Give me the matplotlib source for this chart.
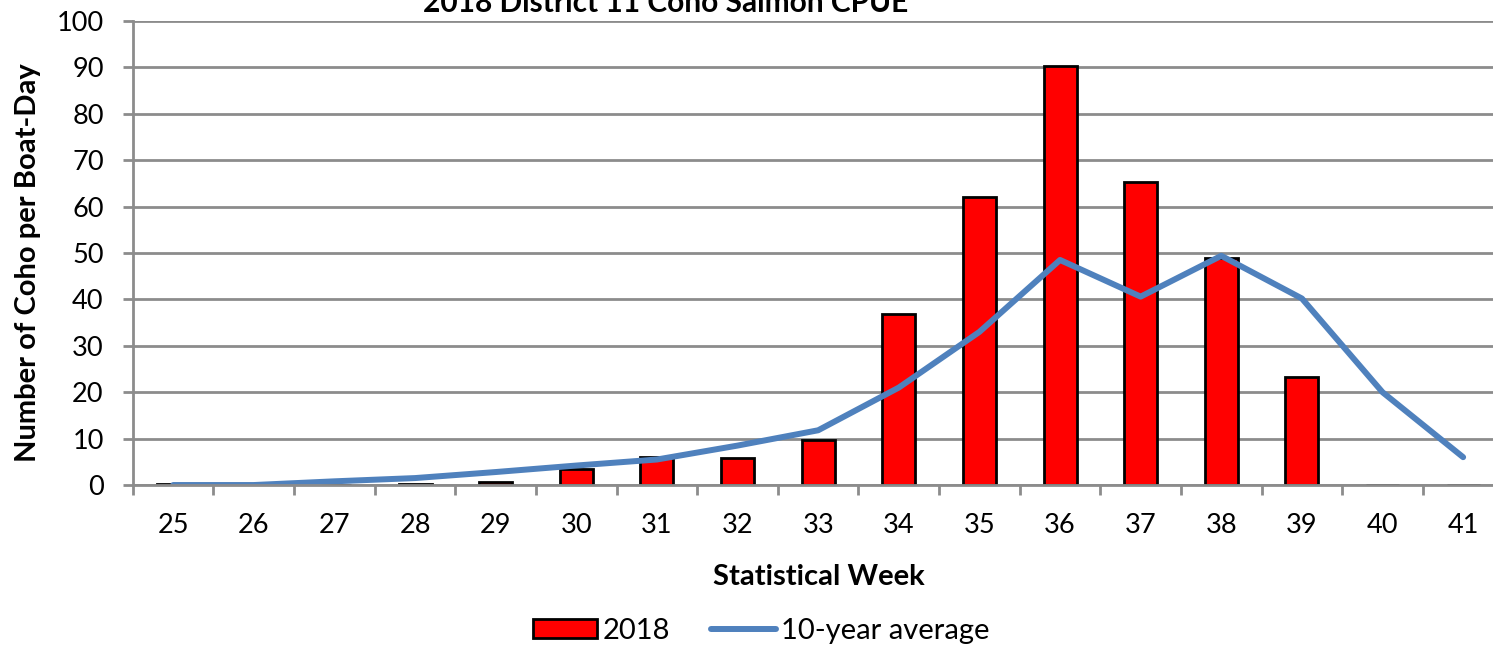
import numpy as np
import matplotlib
matplotlib.use('Agg')
import matplotlib.pyplot as plt
from matplotlib.patches import Patch
from matplotlib.lines import Line2D

plt.rcParams['font.family'] = ['Lato', 'DejaVu Sans']

weeks = ['25', '26', '27', '28', '29', '30', '31', '32', '33',
         '34', '35', '36', '37', '38', '39', '40', '41']
cpue_2018 = [0.3, 0, 0, 0.3, 0.6, 3.4, 6.0, 5.8, 9.8,
             36.8, 62.1, 90.3, 65.2, 48.9, 23.3, 0, 0]
avg_10yr = [0, 0, 0.8, 1.5, 2.8, 4.2, 5.5, 8.5, 11.8,
            21.0, 33.0, 48.5, 40.6, 49.4, 40.2, 20.0, 6.0]

grid_col = '#8c8c8c'
blue = '#4f81bd'

fig = plt.figure(figsize=(14.93, 6.48), dpi=100)
ax = fig.add_axes([0.089, 0.2515, 0.918, 0.7161])

x = np.arange(len(weeks))
ax.bar(x, cpue_2018, width=0.41, color='#ff0000', edgecolor='black',
       linewidth=2, zorder=3)
ax.plot(x, avg_10yr, color=blue, lw=4.3, solid_capstyle='round',
        zorder=4)

ax.set_xlim(-0.5, len(weeks) - 0.5)
ax.set_ylim(0, 100)
ax.set_yticks(np.arange(0, 101, 10))
ax.set_xticks(x)
ax.set_xticklabels(weeks)
ax.set_xticks(np.arange(-0.5, len(weeks), 1), minor=True)
ax.tick_params(axis='x', which='major', length=0, pad=20, labelsize=19.5)
ax.tick_params(axis='x', which='minor', length=7, width=2, color=grid_col)
ax.tick_params(axis='y', length=7, width=2, color=grid_col, pad=14,
               labelsize=19.5)

ax.grid(axis='y', color=grid_col, lw=2, zorder=0)
for s in ['top', 'right']:
    ax.spines[s].set_visible(False)
for s in ['left', 'bottom']:
    ax.spines[s].set_color(grid_col)
    ax.spines[s].set_linewidth(2)
    ax.spines[s].set_zorder(5)

ax.set_ylabel('Number of Coho per Boat-Day', fontsize=21, fontweight='bold',
              va='center')
ax.yaxis.set_label_coords(-0.0765, 0.48)
ax.set_xlabel('Statistical Week', fontsize=21, fontweight='bold', va='center')
ax.xaxis.set_label_coords(0.5005, -0.198)

# title is cropped at the top edge in the original image
fig.text(0.446, 0.995, '2018 District 11 Coho Salmon CPUE', fontsize=21.5,
         fontweight='bold', ha='center', va='center')

handles = [Patch(facecolor='#ff0000', edgecolor='black', linewidth=2),
           Line2D([0], [0], color=blue, lw=4.3, solid_capstyle='round')]
fig.legend(handles, ['2018', '10-year average'], loc='center',
           bbox_to_anchor=(0.51, 0.026), ncol=2, frameon=False, fontsize=21,
           handlelength=2.2, handleheight=0.62, handletextpad=0.2,
           columnspacing=1.4)

fig.savefig('out.png', dpi=100)
